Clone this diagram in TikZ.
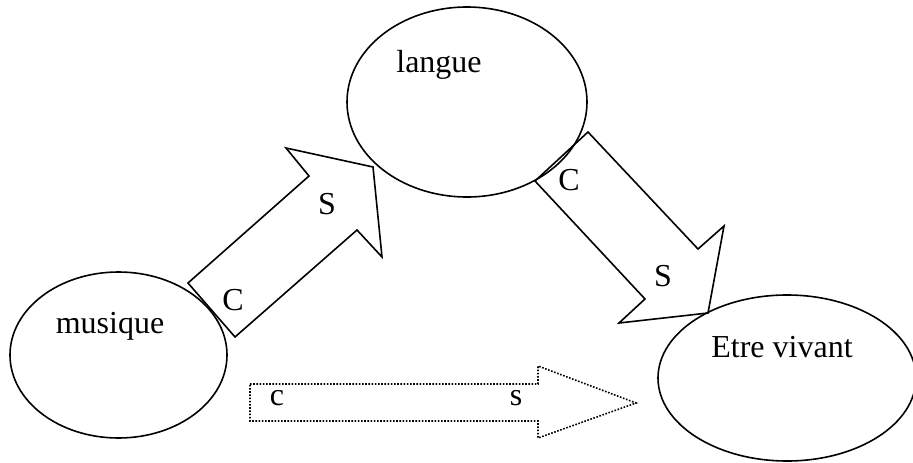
\documentclass[tikz,border=0pt]{standalone}
\usepackage{fontspec}
\setmainfont{Liberation Serif}
\usetikzlibrary{shapes.geometric}
\begin{document}
\begin{tikzpicture}[x=1pt,y=-1pt,
  bubble/.style={draw,ellipse,line width=1.6pt,inner sep=0pt},
  blockarrow/.style={draw,line width=1.6pt,line join=miter},
  dotarrow/.style={draw,line width=1.6pt,dash pattern=on 1.6pt off 1.6pt},
  lbl/.style={anchor=base,inner sep=0pt,font=\fontsize{32}{38}\selectfont}]
\useasboundingbox (0,0) rectangle (913,463);
% ellipses
\node[bubble,minimum width=217pt,minimum height=166pt] (mus) at (118.5,355) {};
\node[bubble,minimum width=240pt,minimum height=190pt] (lan) at (467,102) {};
\node[bubble,minimum width=258pt,minimum height=166pt] (etr) at (787,378) {};
% labels
\node[lbl] (tmus) at (110,333) {musique};
\node[lbl] (tlan) at (439,72) {langue};
\node[lbl] (tetr) at (782,357) {Etre vivant};
% arrow musique -> langue
\draw[blockarrow] (188,283) -- (309,176) -- (286,148) -- (373,167) -- (382,257) -- (357,230) -- (235,337) -- cycle;
\node[lbl] (c1) at (233,310) {C};
\node[lbl] (s1) at (327,214) {S};
% arrow langue -> etre vivant
\draw[blockarrow] (588,132) -- (698,249) -- (724,226) -- (708,313) -- (619,323) -- (645,299) -- (535,181) -- cycle;
\node[lbl] (c2) at (569,190) {C};
\node[lbl] (s2) at (663,286) {S};
% dotted arrow
\draw[dotarrow] (250,384) -- (538,384) -- (538,366) -- (636,403) -- (538,438) -- (538,421) -- (250,421) -- cycle;
\node[lbl] (c3) at (277,405) {c};
\node[lbl] (s3) at (516,405) {s};
\end{tikzpicture}
\end{document}
